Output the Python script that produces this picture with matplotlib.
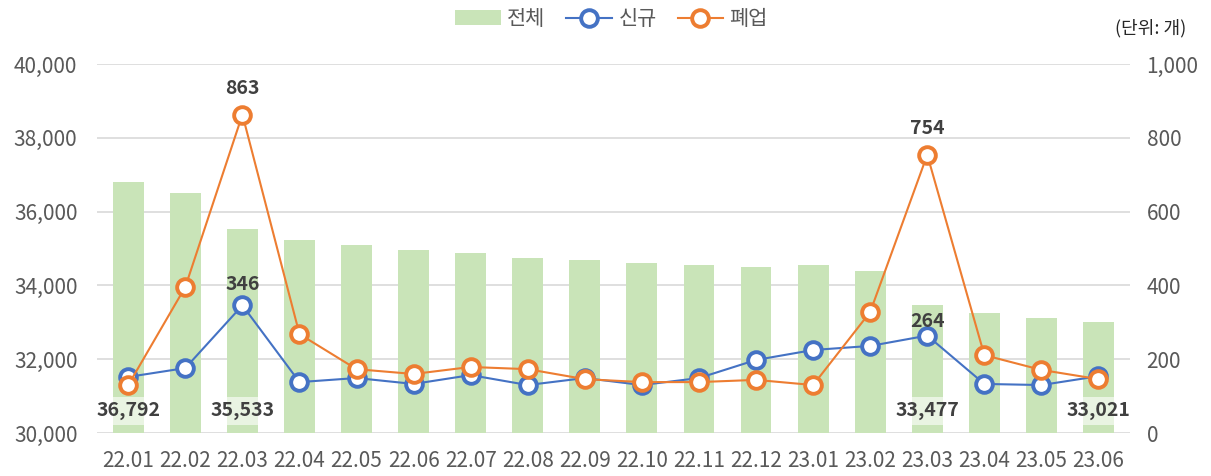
import matplotlib
matplotlib.use('Agg')
import matplotlib.pyplot as plt
from matplotlib.ticker import FuncFormatter

plt.rcParams['font.family'] = ['Noto Sans CJK KR', 'DejaVu Sans']

months = ['22.01', '22.02', '22.03', '22.04', '22.05', '22.06', '22.07', '22.08', '22.09',
          '22.10', '22.11', '22.12', '23.01', '23.02', '23.03', '23.04', '23.05', '23.06']
total = [36792, 36510, 35533, 35230, 35095, 34960, 34880, 34740, 34690,
         34610, 34550, 34500, 34550, 34390, 33477, 33250, 33115, 33021]
new = [152, 176, 346, 138, 149, 133, 157, 130, 149, 130, 149, 198, 225, 236, 264, 133, 130, 154]
closed = [130, 396, 863, 268, 173, 160, 179, 173, 146, 138, 138, 144, 130, 328, 754, 211, 171, 146]

bar_label_idx = [0, 2, 14, 17]
line_label_idx = [2, 14]

bar_c = '#C9E4B8'
blue = '#4472C4'
orange = '#ED7D31'
txt = '#595959'
dark = '#404040'

fig = plt.figure(figsize=(12.11, 4.76), dpi=100)
ax = fig.add_axes([0.080, 0.0903, 0.853, 0.7752])
ax2 = ax.twinx()

x = list(range(len(months)))
ax.bar(x, total, width=0.54, color=bar_c, zorder=2, label='전체')
ax.set_ylim(30000, 40000)
ax.set_yticks(range(30000, 40001, 2000))
ax.yaxis.set_major_formatter(FuncFormatter(lambda v, p: f'{int(v):,}'))
ax.set_xlim(-0.55, len(months) - 0.45)
ax.set_xticks(x)
ax.set_xticklabels(months)
ax.grid(axis='y', color='#D9D9D9', linewidth=1.2, zorder=0)
ax.set_axisbelow(True)

for a in (ax, ax2):
    for s in a.spines.values():
        s.set_visible(False)
    a.tick_params(length=0, labelsize=15, colors=txt)
ax.tick_params(axis='x', pad=12)
ax.tick_params(axis='y', pad=14)
ax2.tick_params(axis='y', pad=12)

for i in bar_label_idx:
    ax.text(i, 30600, f'{total[i]:,}', ha='center', va='center', fontsize=14,
            fontweight='bold', color=dark, zorder=3,
            bbox=dict(boxstyle='square,pad=0.25', fc='white', ec='none', alpha=0.6))

ax2.plot(x, new, color=blue, lw=1.5, marker='o', ms=12, mfc='white', mec=blue, mew=2.8,
         label='신규', zorder=3)
ax2.plot(x, closed, color=orange, lw=1.5, marker='o', ms=12, mfc='white', mec=orange, mew=2.8,
         label='폐업', zorder=4)
ax2.set_ylim(0, 1000)
ax2.set_yticks(range(0, 1001, 200))
ax2.yaxis.set_major_formatter(FuncFormatter(lambda v, p: f'{int(v):,}'))

for i in line_label_idx:
    ax2.annotate(f'{closed[i]:,}', (i, closed[i]), xytext=(0, 12), textcoords='offset points',
                 ha='center', va='bottom', fontsize=14, fontweight='bold', color=dark)
    ax2.annotate(f'{new[i]:,}', (i, new[i]), xytext=(0, 8 if i == 2 else 3),
                 textcoords='offset points',
                 ha='center', va='bottom', fontsize=14, fontweight='bold', color=dark)

h1, l1 = ax.get_legend_handles_labels()
h2, l2 = ax2.get_legend_handles_labels()
fig.legend(h1 + h2, l1 + l2, loc='center', bbox_to_anchor=(0.505, 0.96), ncol=3, frameon=False,
           fontsize=15, handlelength=2.2, columnspacing=1.0, handletextpad=0.3,
           labelcolor=txt)

fig.text(0.95, 0.94, '(단위: 개)', ha='center', va='center', fontsize=13, color='#262626')

fig.savefig('out.png', dpi=100)
